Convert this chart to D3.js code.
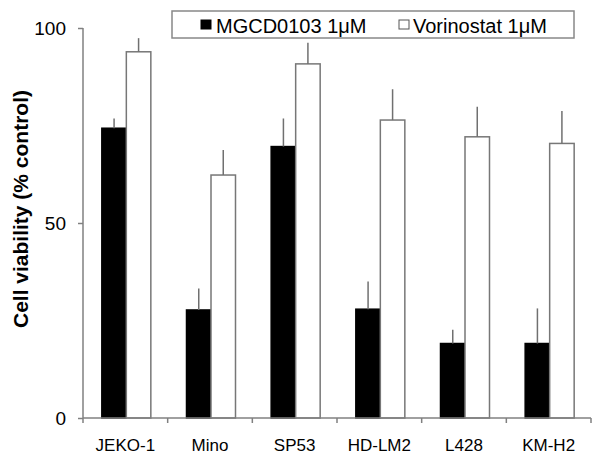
<!DOCTYPE html>
<html><head><meta charset="utf-8">
<script src="https://cdn.jsdelivr.net/npm/d3@7"></script>
<style>body{margin:0;background:#fff}svg{display:block}text{font-family:"Liberation Sans",Arial,sans-serif}</style>
</head><body><svg id="c" width="601" height="462"></svg>
<script>
const categories = ["JEKO-1","Mino","SP53","HD-LM2","L428","KM-H2"];
const mgcdValues = [74.3, 27.7, 69.6, 27.9, 19.1, 19.1];
const mgcdErrors = [2.5, 5.5, 7.2, 7.1, 3.5, 9.0];
const vorinoValues = [93.9, 62.3, 90.8, 76.4, 72.1, 70.4];
const vorinoErrors = [3.5, 6.4, 5.4, 7.9, 7.7, 8.3];
const yTicks = [0, 50, 100];
const seriesNames = ["MGCD0103 1\u03bcM", "Vorinostat 1\u03bcM"];

const svg = d3.select("#c");
const x = d3.scaleBand().domain(categories).range([83, 591]).padding(0);
const y = d3.scaleLinear().domain([0, 100]).range([418, 28]);
const bw = 24.5;
const axisColor = "#808080";

// bars
const series = [
  {vals: mgcdValues, errs: mgcdErrors, fill: "#000", stroke: "#000", off: -bw + 1},
  {vals: vorinoValues, errs: vorinoErrors, fill: "#fff", stroke: "#777", off: 1}
];
series.forEach(s => {
  const g = svg.append("g");
  g.selectAll("rect").data(categories).join("rect")
    .attr("x", (d) => x(d) + x.bandwidth()/2 + s.off)
    .attr("y", (d,i) => y(s.vals[i]))
    .attr("width", bw)
    .attr("height", (d,i) => y(0) - y(s.vals[i]))
    .attr("fill", s.fill)
    .attr("stroke", s.stroke)
    .attr("stroke-width", 1.5);
  g.selectAll("line").data(categories).join("line")
    .attr("x1", d => x(d) + x.bandwidth()/2 + s.off + bw/2)
    .attr("x2", d => x(d) + x.bandwidth()/2 + s.off + bw/2)
    .attr("y1", (d,i) => y(s.vals[i]))
    .attr("y2", (d,i) => y(s.vals[i] + s.errs[i]))
    .attr("stroke", "#707070").attr("stroke-width", 1.5);
});

// y axis
const ya = svg.append("g").attr("transform", "translate(83,0)")
  .call(d3.axisLeft(y).tickValues(yTicks).tickSize(5).tickPadding(12));
ya.select(".domain").attr("stroke", axisColor).attr("stroke-width", 1.5).attr("d", `M0,${y(100)}V${y(0)}`);
ya.selectAll(".tick line").attr("stroke", axisColor).attr("stroke-width", 1.5);
ya.selectAll(".tick text").attr("font-size", 19).attr("fill", "#000")
  .style("font-family", '"Liberation Sans",Arial,sans-serif');

// x axis
const xa = svg.append("g").attr("transform", `translate(0,${y(0)})`)
  .call(d3.axisBottom(x).tickSize(0).tickPadding(21));
xa.select(".domain").attr("stroke", axisColor).attr("stroke-width", 1.5).attr("d", "M83,0H591");
xa.selectAll(".tick text").attr("font-size", 17).attr("fill", "#000")
  .style("font-family", '"Liberation Sans",Arial,sans-serif');
const bounds = categories.map(c => x(c)).concat([x.range()[1]]);
xa.selectAll("line.sep").data(bounds).join("line").attr("class","sep")
  .attr("x1", d => d).attr("x2", d => d).attr("y1", 0).attr("y2", 5)
  .attr("stroke", axisColor).attr("stroke-width", 1.5);

// y title
svg.append("text")
  .attr("transform", "translate(28,209) rotate(-90)")
  .attr("text-anchor", "middle")
  .attr("font-size", 21).attr("font-weight", "bold")
  .text("Cell viability (% control)");

// legend
const lg = svg.append("g");
lg.append("rect").attr("x", 172).attr("y", 11).attr("width", 402).attr("height", 27)
  .attr("fill", "#fff").attr("stroke", "#888").attr("stroke-width", 1.5);
const legItems = [
  {name: seriesNames[0], fill: "#000", stroke: "#000", sx: 201, tx: 216},
  {name: seriesNames[1], fill: "#fff", stroke: "#555", sx: 399, tx: 413}
];
legItems.forEach(it => {
  lg.append("rect").attr("x", it.sx).attr("y", 20).attr("width", 10).attr("height", 9)
    .attr("fill", it.fill).attr("stroke", it.stroke).attr("stroke-width", 1);
  lg.append("text").attr("x", it.tx).attr("y", 33).attr("font-size", 20).text(it.name);
});
</script></body></html>
